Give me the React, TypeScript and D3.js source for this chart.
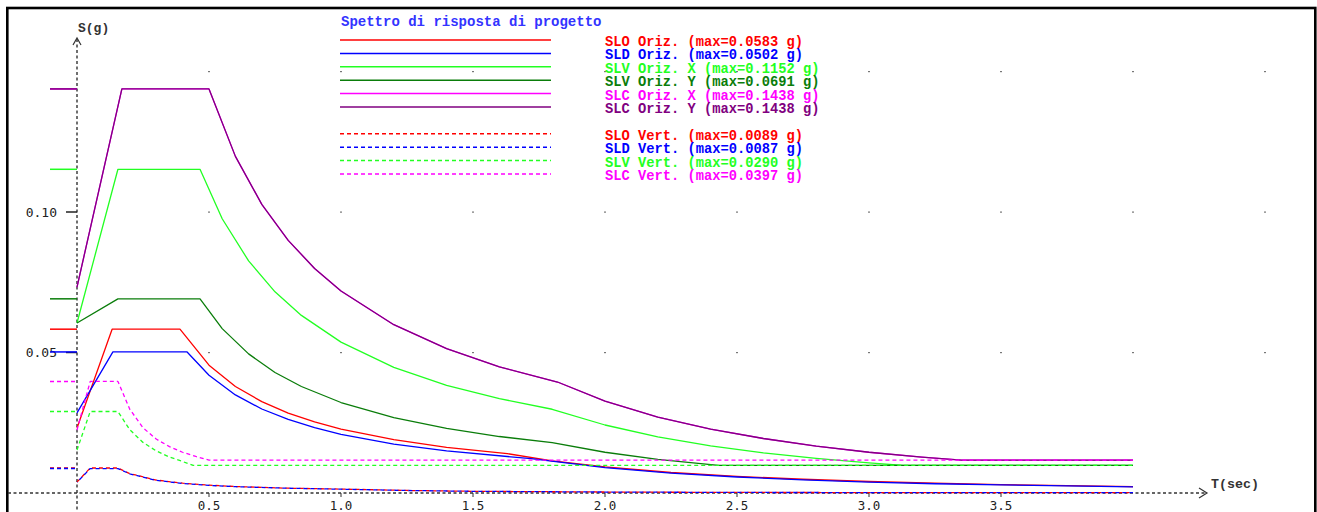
import { useEffect, useRef } from "react";
import * as d3 from "d3";

type Pt = [number, number];

// spettri orizzontali: [T (sec), S (g)]
const sloOriz: Pt[] = [
  [0, 0.0231], [0.133, 0.0583], [0.39, 0.0583], [0.5, 0.0455], [0.6, 0.0379], [0.7, 0.0325],
  [0.8, 0.0284], [0.9, 0.0253], [1.0, 0.0227], [1.2, 0.019], [1.4, 0.0162], [1.63, 0.014],
  [1.8, 0.0114], [2.0, 0.0093], [2.25, 0.0073], [2.5, 0.0059], [2.75, 0.0049], [3.0, 0.0041],
  [3.25, 0.0035], [3.5, 0.003], [3.75, 0.0026], [4.0, 0.0023],
];
const sldOriz: Pt[] = [
  [0, 0.0285], [0.136, 0.0502], [0.417, 0.0502], [0.5, 0.0419], [0.6, 0.0349], [0.7, 0.0299],
  [0.8, 0.0262], [0.9, 0.0233], [1.0, 0.0209], [1.2, 0.0174], [1.4, 0.015], [1.72, 0.0122],
  [2.0, 0.009], [2.25, 0.0071], [2.5, 0.0057], [2.75, 0.0047], [3.0, 0.0039], [3.25, 0.0033],
  [3.5, 0.0029], [3.75, 0.0025], [4.0, 0.0022],
];
const slvOrizX: Pt[] = [
  [0, 0.0605], [0.155, 0.1152], [0.466, 0.1152], [0.55, 0.0976], [0.65, 0.0826], [0.75, 0.0716],
  [0.85, 0.0632], [1.0, 0.0537], [1.2, 0.0447], [1.4, 0.0383], [1.6, 0.0336], [1.8, 0.0298],
  [2.0, 0.0242], [2.2, 0.02], [2.4, 0.0168], [2.6, 0.0143], [2.8, 0.0123], [3.0, 0.0107],
  [3.13, 0.0098], [4.0, 0.0098],
];
const slvOrizY: Pt[] = [
  [0, 0.0605], [0.155, 0.0691], [0.466, 0.0691], [0.55, 0.0585], [0.65, 0.0495], [0.75, 0.0429],
  [0.85, 0.0379], [1.0, 0.0322], [1.2, 0.0268], [1.4, 0.023], [1.6, 0.0201], [1.8, 0.0179],
  [2.0, 0.0145], [2.2, 0.012], [2.43, 0.0098], [4.0, 0.0098],
];
const slcOrizX: Pt[] = [
  [0, 0.0733], [0.17, 0.1438], [0.5, 0.1438], [0.6, 0.1198], [0.7, 0.1027], [0.8, 0.0899],
  [0.9, 0.0799], [1.0, 0.0719], [1.2, 0.0599], [1.4, 0.0514], [1.6, 0.0449], [1.82, 0.0395],
  [2.0, 0.0327], [2.2, 0.027], [2.4, 0.0227], [2.6, 0.0194], [2.8, 0.0167], [3.0, 0.0145],
  [3.2, 0.0128], [3.35, 0.0117], [4.0, 0.0117],
];
const slcOrizY: Pt[] = [
  [0, 0.0733], [0.17, 0.1438], [0.5, 0.1438], [0.6, 0.1198], [0.7, 0.1027], [0.8, 0.0899],
  [0.9, 0.0799], [1.0, 0.0719], [1.2, 0.0599], [1.4, 0.0514], [1.6, 0.0449], [1.82, 0.0395],
  [2.0, 0.0327], [2.2, 0.027], [2.4, 0.0227], [2.6, 0.0194], [2.8, 0.0167], [3.0, 0.0145],
  [3.2, 0.0128], [3.35, 0.0117], [4.0, 0.0117],
];

// spettri verticali
const sloVert: Pt[] = [
  [0, 0.0039], [0.05, 0.0089], [0.155, 0.0089], [0.2, 0.0069], [0.3, 0.0046], [0.4, 0.0035],
  [0.5, 0.0028], [0.6, 0.0023], [0.8, 0.0017], [1.0, 0.0014], [1.25, 0.0009], [1.5, 0.0006],
  [2.0, 0.00035], [2.5, 0.0002], [3.0, 0.00015], [4.0, 0.0001],
];
const sldVert: Pt[] = [
  [0, 0.0038], [0.05, 0.0087], [0.155, 0.0087], [0.2, 0.0068], [0.3, 0.0045], [0.4, 0.0034],
  [0.5, 0.0027], [0.6, 0.00225], [0.8, 0.0017], [1.0, 0.00135], [1.25, 0.0009], [1.5, 0.0006],
  [2.0, 0.00034], [2.5, 0.0002], [3.0, 0.00015], [4.0, 0.0001],
];
const slvVert: Pt[] = [
  [0, 0.0153], [0.05, 0.029], [0.155, 0.029], [0.2, 0.0225], [0.25, 0.018], [0.3, 0.015],
  [0.35, 0.0128], [0.4, 0.0112], [0.44, 0.0098], [4.0, 0.0098],
];
const slcVert: Pt[] = [
  [0, 0.0224], [0.05, 0.0397], [0.155, 0.0397], [0.2, 0.0298], [0.25, 0.0232], [0.3, 0.0192],
  [0.35, 0.0165], [0.4, 0.0145], [0.45, 0.013], [0.5, 0.0117], [4.0, 0.0117],
];

const seriesNames = [
  "SLO Oriz.", "SLD Oriz.", "SLV Oriz. X", "SLV Oriz. Y", "SLC Oriz. X", "SLC Oriz. Y",
  "SLO Vert.", "SLD Vert.", "SLV Vert.", "SLC Vert.",
];
const seriesMax = [0.0583, 0.0502, 0.1152, 0.0691, 0.1438, 0.1438, 0.0089, 0.0087, 0.029, 0.0397];
const seriesData = [sloOriz, sldOriz, slvOrizX, slvOrizY, slcOrizX, slcOrizY, sloVert, sldVert, slvVert, slcVert];
const seriesColors = [
  "#ff0000", "#0000ff", "#22ff22", "#0a7d0a", "#ff00ff", "#800080",
  "#ff0000", "#0000ff", "#22ff22", "#ff00ff",
];
const seriesDashed = [false, false, false, false, false, false, true, true, true, true];

const xTicks = [0.5, 1.0, 1.5, 2.0, 2.5, 3.0, 3.5];
const yTicks = [0.05, 0.1];
const gridX = [0.5, 1.0, 1.5, 2.0, 2.5, 3.0, 3.5, 4.0, 4.5];
const gridY = [0.05, 0.1, 0.15];

const TITLE = "Spettro di risposta di progetto";

const W = 1317;
const H = 512;

const SpettroChart = () => {
  const svgRef = useRef<SVGSVGElement>(null);

  useEffect(() => {
    const x = d3.scaleLinear().domain([0, 4.5]).range([77, 1265]);
    const y = d3.scaleLinear().domain([0, 0.15]).range([493, 71.5]);
    const mono = "'Liberation Mono', 'Courier New', monospace";
    const sans = "'DejaVu Sans Mono', monospace";

    const svg = d3.select(svgRef.current).attr("width", W).attr("height", H);
    svg.selectAll("*").remove();

    svg.append("rect").attr("width", W).attr("height", H).attr("fill", "#fff");

    // cornice
    svg
      .append("rect")
      .attr("x", 7.3)
      .attr("y", 8)
      .attr("width", 1308)
      .attr("height", 600)
      .attr("fill", "none")
      .attr("stroke", "#000")
      .attr("stroke-width", 2.6);

    // punti della griglia
    const dots = svg.append("g");
    gridY.forEach((gy) => {
      gridX.forEach((gx) => {
        dots
          .append("rect")
          .attr("x", x(gx) - 1)
          .attr("y", y(gy) - 0.5)
          .attr("width", 2)
          .attr("height", 1.2)
          .attr("fill", "#777");
      });
    });

    // assi
    const axisColor = "#333";
    svg
      .append("line")
      .attr("x1", 8)
      .attr("x2", 1206)
      .attr("y1", y(0))
      .attr("y2", y(0))
      .attr("stroke", axisColor)
      .attr("stroke-width", 1.4)
      .attr("stroke-dasharray", "3,2.5");
    svg
      .append("line")
      .attr("x1", x(0))
      .attr("x2", x(0))
      .attr("y1", 39)
      .attr("y2", H)
      .attr("stroke", axisColor)
      .attr("stroke-width", 1.4)
      .attr("stroke-dasharray", "3,2.5");

    svg
      .append("polyline")
      .attr("points", `1199,488 1207,${y(0)} 1199,498`)
      .attr("fill", "none")
      .attr("stroke", axisColor)
      .attr("stroke-width", 1.2);
    svg
      .append("polyline")
      .attr("points", `${x(0) - 4},45 ${x(0)},38 ${x(0) + 4},45`)
      .attr("fill", "none")
      .attr("stroke", axisColor)
      .attr("stroke-width", 1.2);

    svg
      .append("text")
      .attr("x", 78)
      .attr("y", 28)
      .attr("dominant-baseline", "central")
      .attr("font-family", mono)
      .attr("font-weight", "bold")
      .attr("font-size", 13)
      .attr("fill", "#333")
      .text("S(g)");
    svg
      .append("text")
      .attr("x", 1211)
      .attr("y", 484)
      .attr("dominant-baseline", "central")
      .attr("font-family", mono)
      .attr("font-weight", "bold")
      .attr("font-size", 13.3)
      .attr("fill", "#333")
      .text("T(sec)");

    // tacche e etichette asse x
    xTicks.forEach((t) => {
      svg
        .append("line")
        .attr("x1", x(t))
        .attr("x2", x(t))
        .attr("y1", y(0))
        .attr("y2", y(0) + 4)
        .attr("stroke", "#333")
        .attr("stroke-width", 1);
      svg
        .append("text")
        .attr("x", x(t))
        .attr("y", 505)
        .attr("text-anchor", "middle")
        .attr("dominant-baseline", "central")
        .attr("font-family", sans)
        .attr("font-size", 12.5)
        .attr("fill", "#222")
        .text(d3.format(".1f")(t));
    });

    // tacche e etichette asse y
    yTicks.forEach((t) => {
      svg
        .append("line")
        .attr("x1", 66)
        .attr("x2", x(0))
        .attr("y1", y(t))
        .attr("y2", y(t))
        .attr("stroke", "#222")
        .attr("stroke-width", 1.5);
      svg
        .append("text")
        .attr("x", 57)
        .attr("y", y(t))
        .attr("text-anchor", "end")
        .attr("dominant-baseline", "central")
        .attr("font-family", sans)
        .attr("font-size", 13)
        .attr("fill", "#222")
        .text(d3.format(".2f")(t));
    });

    const line = d3
      .line<Pt>()
      .x((d) => x(d[0]))
      .y((d) => y(d[1]));

    const curves = svg.append("g");
    seriesData.forEach((data, i) => {
      const dash = seriesDashed[i] ? "4,3" : null;
      // SLD verticale sfalsato per lasciar vedere lo SLO sotto
      const offset = seriesDashed[i] && i === 7 ? 3.5 : 0;
      // segmento del massimo a sinistra dell'asse
      curves
        .append("line")
        .attr("x1", 50)
        .attr("x2", x(0))
        .attr("y1", y(seriesMax[i]))
        .attr("y2", y(seriesMax[i]))
        .attr("stroke", seriesColors[i])
        .attr("stroke-width", 1.5)
        .attr("stroke-dasharray", dash);
      curves
        .append("path")
        .attr("d", line(data))
        .attr("fill", "none")
        .attr("stroke", seriesColors[i])
        .attr("stroke-width", 1.3)
        .attr("stroke-linejoin", "round")
        .attr("stroke-dasharray", dash)
        .attr("stroke-dashoffset", offset);
    });

    // legenda
    const legend = svg.append("g");
    legend
      .append("text")
      .attr("x", 341)
      .attr("y", 21.5)
      .attr("dominant-baseline", "central")
      .attr("font-family", mono)
      .attr("font-weight", "bold")
      .attr("font-size", 14)
      .attr("fill", "#3333ff")
      .text(TITLE);

    seriesNames.forEach((name, i) => {
      const rowY = 40 + i * 13.4 + (seriesDashed[i] ? 13.4 : 0);
      legend
        .append("line")
        .attr("x1", 340)
        .attr("x2", 551)
        .attr("y1", rowY)
        .attr("y2", rowY)
        .attr("stroke", seriesColors[i])
        .attr("stroke-width", 1.5)
        .attr("stroke-dasharray", seriesDashed[i] ? "4,3" : null);
      legend
        .append("text")
        .attr("x", 605)
        .attr("y", rowY + 2.5)
        .attr("dominant-baseline", "central")
        .attr("font-family", mono)
        .attr("font-weight", "bold")
        .attr("font-size", 13.75)
        .attr("fill", seriesColors[i])
        .text(`${name} (max=${seriesMax[i].toFixed(4)} g)`);
    });
  }, []);

  return (
    <svg
      ref={svgRef}
      style={{ position: "absolute", left: 0, top: 0, display: "block" }}
    />
  );
};

export default function App() {
  return <SpettroChart />;
}
